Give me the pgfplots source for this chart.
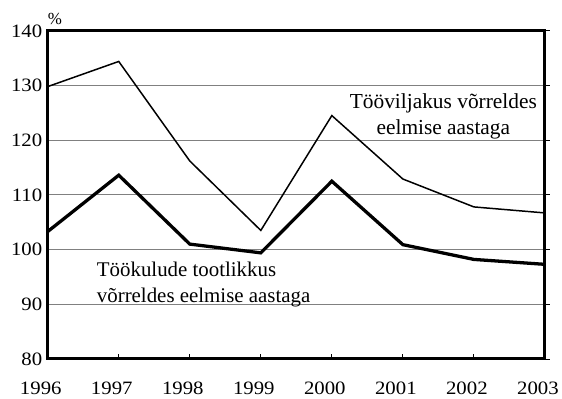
\documentclass[border=0pt]{standalone}
\usepackage{fontspec}
\setmainfont{Liberation Serif}
\newfontfamily\widefont[FakeStretch=1.1]{Liberation Serif}
\usepackage{pgfplots}
\pgfplotsset{compat=1.18}
\begin{document}
\begin{tikzpicture}
\begin{axis}[
    scale only axis,
    width=500pt, height=330pt,
    xmin=1996, xmax=2003,
    ymin=80, ymax=140,
    xtick={1996,...,2003},
    ytick={80,90,...,140},
    xticklabel style={/pgf/number format/1000 sep={}, yshift=-20pt, xshift=-7pt},
    yticklabel style={xshift=3pt},
    /pgf/number format/assume math mode=true,
    tick label style={font=\widefont\fontsize{19}{21}\selectfont},
    axis line style={line width=3pt},
    ymajorgrids,
    grid style={gray, line width=0.9pt},
    xtick pos=lower, ytick pos=right,
    yticklabel pos=left,
    tick style={black, line width=0.8pt},
    major tick length=5pt,
    xtick align=inside, ytick align=outside,
    clip=false,
]
% Tööviljakus
\addplot[black, line width=1.5pt] coordinates {
    (1996,129.8) (1997,134.4) (1998,116.2) (1999,103.5) (2000,124.5) (2001,112.9) (2002,107.8) (2003,106.7)
};
% Töökulude tootlikkus
\addplot[black, line width=3.3pt] coordinates {
    (1996,103.3) (1997,113.6) (1998,101.0) (1999,99.4) (2000,112.5) (2001,100.9) (2002,98.2) (2003,97.3)
};
\node[font=\fontsize{21.5}{26}\selectfont, align=center] at (axis cs:2001.57,124.3)
    {Tööviljakus võrreldes\\eelmise aastaga};
\node[font=\fontsize{21}{26}\selectfont, align=left, anchor=west, inner sep=0pt] at (axis cs:1996.69,93.6)
    {Töökulude tootlikkus\\võrreldes eelmise aastaga};
\node[font=\fontsize{17}{19}\selectfont, anchor=south west, inner sep=0pt] at ([yshift=6pt]rel axis cs:0,1) {\%};
\path ([xshift=-48pt,yshift=-40pt]rel axis cs:0,0) rectangle ([xshift=14pt,yshift=31pt]rel axis cs:1,1);
\end{axis}
\end{tikzpicture}
\end{document}
